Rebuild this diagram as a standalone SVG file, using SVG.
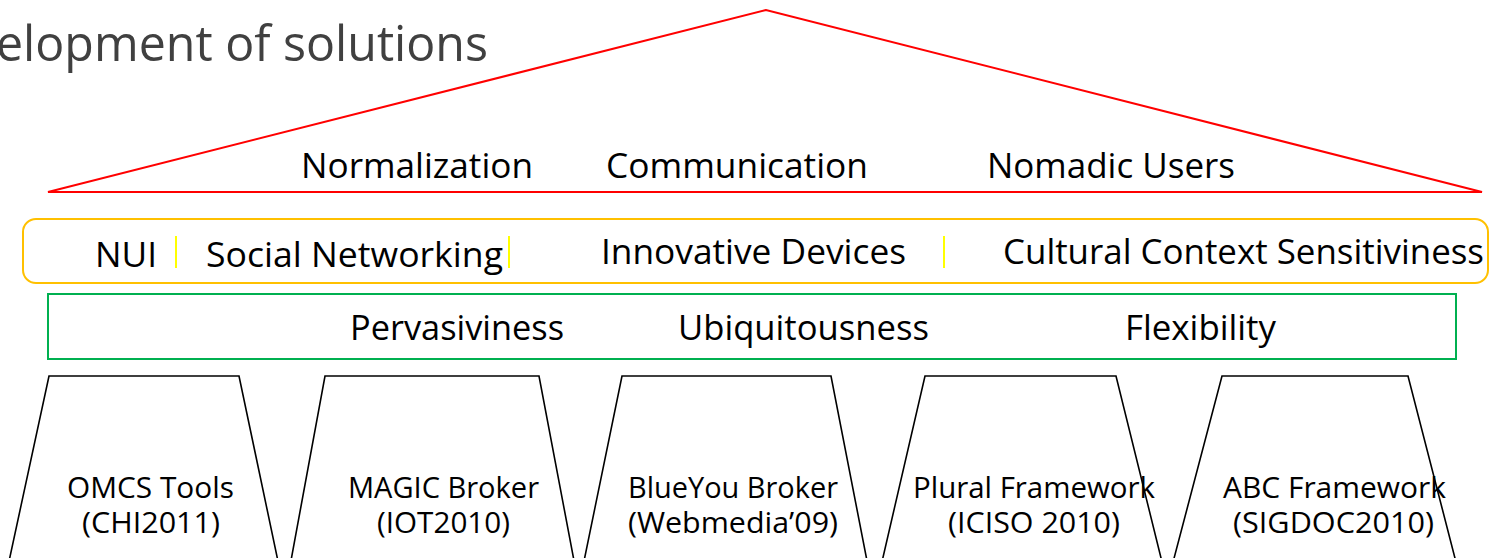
<svg xmlns="http://www.w3.org/2000/svg" width="1490" height="558" viewBox="0 0 1490 558">
<style>
.t{font-family:"Open Sans","Noto Sans","Liberation Sans",sans-serif;fill:#000;}
.row{font-size:35px;}
.box{font-size:30px;text-anchor:middle;}
.trap{fill:#fff;stroke:#000;stroke-width:1.6;}
.sep{stroke:#FFFF00;stroke-width:2;}
</style>
<rect width="1490" height="558" fill="#fff"/>
<text class="t" x="-4" y="61" font-size="50" textLength="492" lengthAdjust="spacingAndGlyphs" style="fill:#404040">elopment of solutions</text>
<g id="roof">
<polygon points="766,10 48,192 1482,192" fill="none" stroke="#FF0000" stroke-width="2"/>
<text class="t row" x="301" y="178" textLength="232" lengthAdjust="spacingAndGlyphs">Normalization</text>
<text class="t row" x="606" y="178" textLength="262" lengthAdjust="spacingAndGlyphs">Communication</text>
<text class="t row" x="987" y="178" textLength="248" lengthAdjust="spacingAndGlyphs">Nomadic Users</text>
</g>
<g id="tech">
<rect x="23" y="219" width="1465" height="64" rx="13" fill="none" stroke="#FFC000" stroke-width="2"/>
<line class="sep" x1="176" y1="236" x2="176" y2="268"/>
<line class="sep" x1="509" y1="236" x2="509" y2="268"/>
<line class="sep" x1="944" y1="236" x2="944" y2="268"/>
<text class="t row" x="95" y="267" textLength="62" lengthAdjust="spacingAndGlyphs">NUI</text>
<text class="t row" x="206" y="267" textLength="297" lengthAdjust="spacingAndGlyphs">Social Networking</text>
<text class="t row" x="601" y="264" textLength="305" lengthAdjust="spacingAndGlyphs">Innovative Devices</text>
<text class="t row" x="1003" y="264" textLength="481" lengthAdjust="spacingAndGlyphs">Cultural Context Sensitiviness</text>
</g>
<g id="qualities">
<rect x="48" y="294" width="1408" height="65" fill="none" stroke="#00B050" stroke-width="2"/>
<text class="t row" x="350" y="340" textLength="214" lengthAdjust="spacingAndGlyphs">Pervasiviness</text>
<text class="t row" x="678" y="340" textLength="251" lengthAdjust="spacingAndGlyphs">Ubiquitousness</text>
<text class="t row" x="1125" y="340" textLength="151" lengthAdjust="spacingAndGlyphs">Flexibility</text>
</g>
<g id="pillar-omcs">
<polygon class="trap" points="49,376 239,376 279,566 8,566"/>
<text class="t box" x="150.5" y="498" textLength="167" lengthAdjust="spacingAndGlyphs">OMCS Tools</text>
<text class="t box" x="151" y="533" textLength="138" lengthAdjust="spacingAndGlyphs">(CHI2011)</text>
</g>
<g id="pillar-magic">
<polygon class="trap" points="325,376 539,376 575,566 290,566"/>
<text class="t box" x="443.5" y="498" textLength="191" lengthAdjust="spacingAndGlyphs">MAGIC Broker</text>
<text class="t box" x="443.5" y="533" textLength="133" lengthAdjust="spacingAndGlyphs">(IOT2010)</text>
</g>
<g id="pillar-blueyou">
<polygon class="trap" points="622,376 831,376 868,566 583,566"/>
<text class="t box" x="733" y="498" textLength="210" lengthAdjust="spacingAndGlyphs">BlueYou Broker</text>
<text class="t box" x="733" y="533" textLength="210" lengthAdjust="spacingAndGlyphs">(Webmedia’09)</text>
</g>
<g id="pillar-plural">
<polygon class="trap" points="925,376 1116,376 1163,566 881,566"/>
<text class="t box" x="1034" y="498" textLength="242" lengthAdjust="spacingAndGlyphs">Plural Framework</text>
<text class="t box" x="1034" y="533" textLength="172" lengthAdjust="spacingAndGlyphs">(ICISO 2010)</text>
</g>
<g id="pillar-abc">
<polygon class="trap" points="1222,376 1408,376 1457,566 1172,566"/>
<text class="t box" x="1334.5" y="498" textLength="223" lengthAdjust="spacingAndGlyphs">ABC Framework</text>
<text class="t box" x="1333.5" y="533" textLength="201" lengthAdjust="spacingAndGlyphs">(SIGDOC2010)</text>
</g>
</svg>
